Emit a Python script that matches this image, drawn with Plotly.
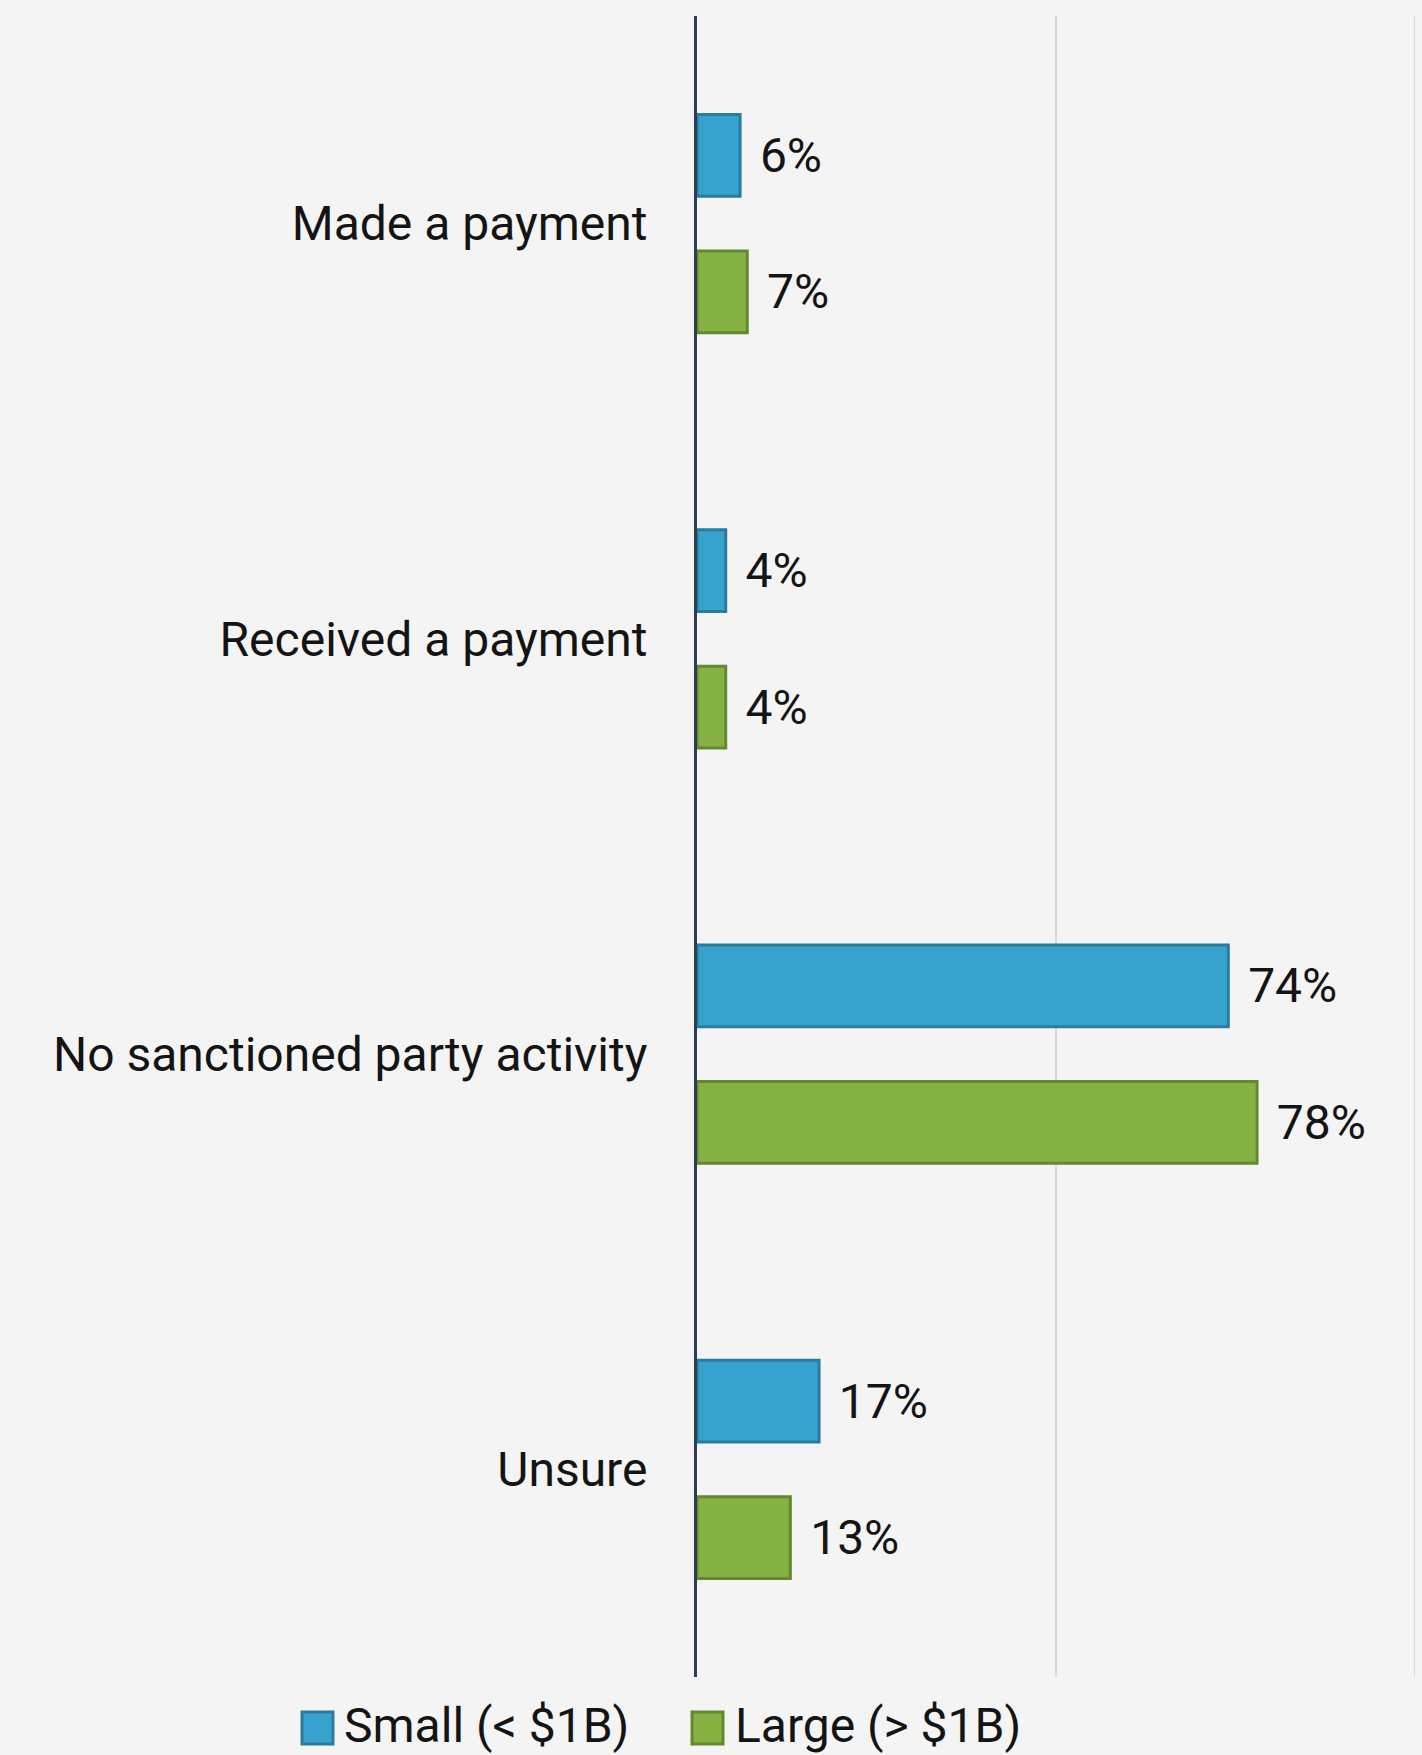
import plotly.graph_objects as go

# Survey responses by company size (percent of respondents)
categories = [
    "Made a payment",
    "Received a payment",
    "No sanctioned party activity",
    "Unsure",
]
small_values = [6, 4, 74, 17]
large_values = [7, 4, 78, 13]
series_names = ["Small (< $1B)", "Large (> $1B)"]

BLUE, BLUE_EDGE = "#35A3CD", "#2A7C9E"
GREEN, GREEN_EDGE = "#86B243", "#62892F"
BG = "#F4F4F4"
TEXT = "#141414"
GRID = "#D8D8D8"
FONT = "Roboto"
FSIZE = 48

W, H = 1422, 1755
MARGIN = dict(l=697, r=7, t=16, b=78)
PLOT_W = W - MARGIN["l"] - MARGIN["r"]
PLOT_H = H - MARGIN["t"] - MARGIN["b"]


def px_x(px):
    return (px - MARGIN["l"]) / PLOT_W


def px_y(py):
    return (H - MARGIN["b"] - py) / PLOT_H


fig = go.Figure()
for name, vals, fill, edge in [
    (series_names[0], small_values, BLUE, BLUE_EDGE),
    (series_names[1], large_values, GREEN, GREEN_EDGE),
]:
    fig.add_trace(
        go.Bar(
            y=categories,
            x=vals,
            orientation="h",
            name=name,
            marker=dict(color=fill, line=dict(color=edge, width=3)),
            text=[f"{v}%" for v in vals],
            texttemplate="\u00a0\u200a%{text}",
            textposition="outside",
            outsidetextfont=dict(family=FONT, size=FSIZE, color=TEXT),
            constraintext="none",
            cliponaxis=False,
            showlegend=False,
        )
    )

# Gridline at the right edge of the value axis (100%)
shapes = [
    dict(
        type="line",
        xref="x",
        yref="paper",
        x0=100,
        x1=100,
        y0=0,
        y1=1,
        line=dict(color=GRID, width=2),
        layer="below",
    )
]

# Legend drawn as swatches + labels below the plot
legend_items = [
    (series_names[0], BLUE, BLUE_EDGE, 302, 342),
    (series_names[1], GREEN, GREEN_EDGE, 692, 733),
]
annotations = []
for label, fill, edge, sx, tx in legend_items:
    shapes.append(
        dict(
            type="rect",
            xref="paper",
            yref="paper",
            x0=px_x(sx),
            x1=px_x(sx + 31),
            y0=px_y(1744),
            y1=px_y(1712),
            fillcolor=fill,
            line=dict(color=edge, width=3),
        )
    )
    annotations.append(
        dict(
            text=label,
            xref="paper",
            yref="paper",
            x=px_x(tx),
            y=px_y(1725),
            xanchor="left",
            yanchor="middle",
            showarrow=False,
            font=dict(family=FONT, size=FSIZE, color=TEXT),
        )
    )

fig.update_layout(
    width=W,
    height=H,
    margin=MARGIN,
    paper_bgcolor=BG,
    plot_bgcolor=BG,
    barmode="group",
    bargap=0.343,
    bargroupgap=0.4,
    showlegend=False,
    shapes=shapes,
    annotations=annotations,
    xaxis=dict(
        range=[0, 100],
        dtick=50,
        showticklabels=False,
        showgrid=True,
        gridcolor=GRID,
        gridwidth=2,
        zeroline=False,
        showline=False,
        fixedrange=True,
    ),
    yaxis=dict(
        autorange="reversed",
        showline=True,
        linecolor="#2C3E50",
        linewidth=3,
        showgrid=False,
        ticks="",
        ticklabelstandoff=37,
        tickfont=dict(family=FONT, size=FSIZE, color=TEXT),
        fixedrange=True,
    ),
)

fig.write_html("out.html")
